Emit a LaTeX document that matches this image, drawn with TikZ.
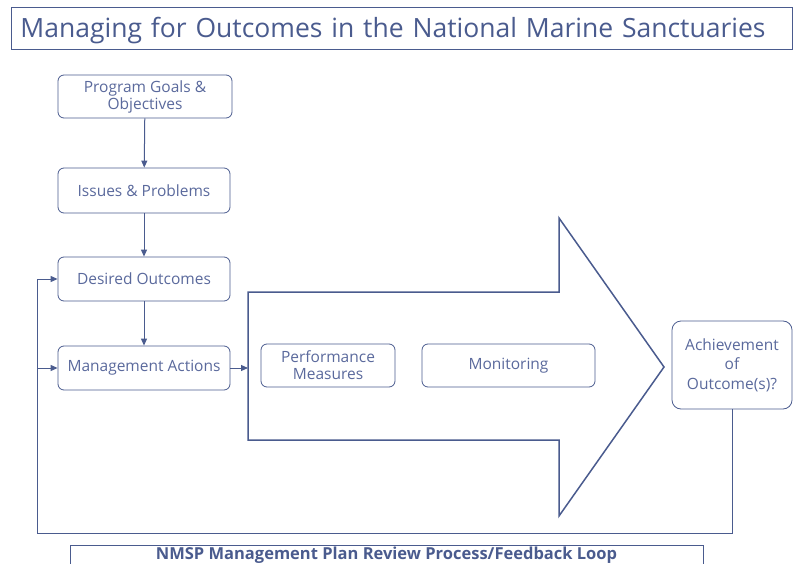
\documentclass[tikz,border=0pt]{standalone}
\usepackage{fontspec}
\setmainfont{Open Sans}
\usetikzlibrary{arrows.meta}

\definecolor{slate}{HTML}{4A5B8E}
\definecolor{slatetext}{HTML}{5A699C}

\begin{document}
\begin{tikzpicture}[x=1pt,y=-1pt,
    box/.style={draw=slate,rounded corners=6pt,line width=0.8pt,text=slatetext,
        font=\fontsize{15.5}{17}\selectfont,align=center,inner sep=0pt},
    link/.style={draw=slate,line width=1pt,-{Triangle[length=7pt,width=6pt]}}]
    \useasboundingbox (0,0) rectangle (794,564);

    % heading
    \node[draw=slate,line width=0.8pt,anchor=west,minimum height=42pt,
        text width=763pt,inner xsep=9pt,align=left,text=slate,
        text height=22pt,text depth=3pt,
        font=\fontsize{26.5}{28}\selectfont] (title) at (11,28)
        {Managing for Outcomes in the National Marine Sanctuaries};

    % planning column
    \node[box,minimum width=174pt,minimum height=43pt] (goals) at (145,96.5) {Program Goals \&\\Objectives};
    \node[box,minimum width=172pt,minimum height=45pt] (issues) at (144,190.5) {Issues \& Problems};
    \node[box,minimum width=172pt,minimum height=44pt] (desired) at (144,279) {Desired Outcomes};
    \node[box,minimum width=172pt,minimum height=44pt] (actions) at (144,368) {Management Actions};

    \draw[link] (goals) -- (issues);
    \draw[link] (issues) -- (desired);
    \draw[link] (desired) -- (actions);

    % big arrow
    \draw[slate,line width=1.5pt] (248,292) -- (559,292) -- (559,218) -- (664,367)
        -- (559,516) -- (559,440) -- (248,440) -- cycle;
    \coordinate (shaft) at (248,368);
    \draw[link] (actions) -- (shaft);

    \node[box,minimum width=134pt,minimum height=43pt] (perf) at (328,365.5) {Performance\\Measures};
    \node[box,minimum width=173pt,minimum height=43pt] (monit) at (508.5,365.5) {Monitoring};

    \node[box,minimum width=120pt,minimum height=88pt,rounded corners=9pt,
        font=\fontsize{15.5}{19.5}\selectfont] (achieve) at (732,365) {Achievement\\of\\Outcome(s)?};

    % feedback loop
    \coordinate (loop) at (37,533);
    \draw[slate,line width=1pt] (achieve.south) |- (loop) -- (loop |- desired.west);
    \draw[link] (loop |- desired.west) -- (desired.west);
    \draw[link] (loop |- actions.west) -- (actions.west);

    \node[draw=slate,line width=0.8pt,anchor=north,minimum width=633pt,
        text height=12.5pt,text depth=14pt,inner ysep=1.5pt,text=slate,
        font=\fontsize{16.5}{18}\selectfont\bfseries] (review) at (386.5,545)
        {NMSP Management Plan Review Process/Feedback Loop};
\end{tikzpicture}
\end{document}
